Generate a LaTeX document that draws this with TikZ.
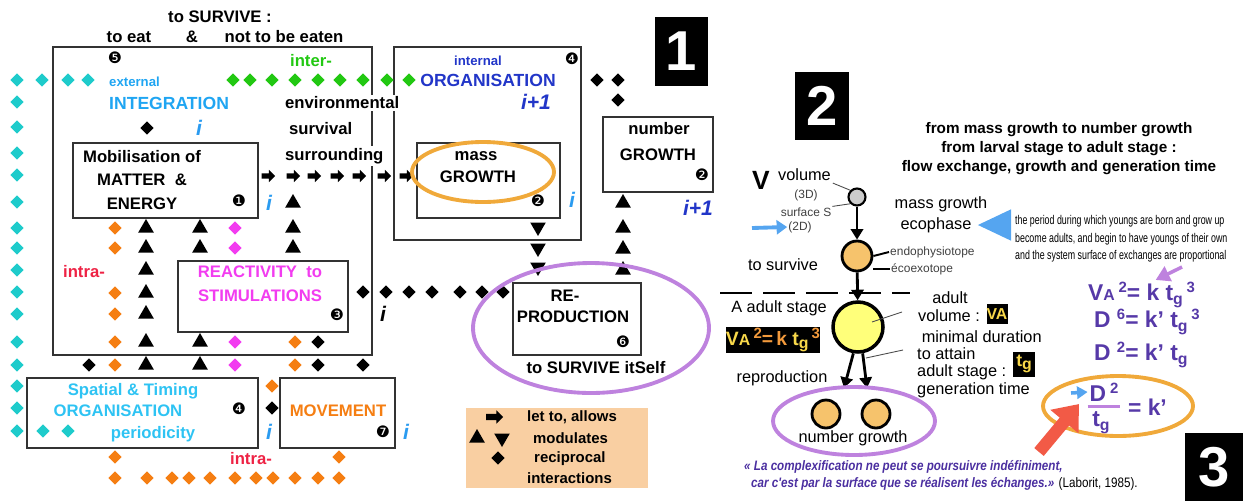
\documentclass[tikz,border=0pt]{standalone}
\usepackage{fontspec}
\setmainfont{Liberation Sans}
\newfontfamily\dingfont{DejaVu Sans}
\newfontfamily\narrowfont[FakeStretch=0.7]{Liberation Sans}
\newfontfamily\quotefont[FakeStretch=0.85]{Liberation Sans}
\usetikzlibrary{positioning,arrows.meta,shapes.geometric,shapes.arrows}
\definecolor{diacyan}{HTML}{1ECBCB}
\definecolor{intblue}{HTML}{1FA5F2}
\definecolor{spablue}{HTML}{2EC3F3}
\definecolor{orgblue}{HTML}{2236C8}
\definecolor{intergreen}{HTML}{22C812}
\definecolor{intraorange}{HTML}{F57E12}
\definecolor{reacmag}{HTML}{F23CF0}
\definecolor{intrared}{HTML}{EE2244}
\definecolor{ringorange}{HTML}{F0A93A}
\definecolor{ringpurple}{HTML}{BE82DE}
\definecolor{legendpeach}{HTML}{F9CFA2}
\definecolor{ibl}{HTML}{2A9BF0}
\definecolor{eqpurple}{HTML}{5639A8}
\definecolor{cellorange}{HTML}{F6C36C}
\definecolor{cellyellow}{HTML}{FFFF7A}
\definecolor{arrowblue}{HTML}{55A5F0}
\definecolor{arrowred}{HTML}{F25A46}
\definecolor{quotepurple}{HTML}{4B2FA0}
\definecolor{fyellow}{HTML}{F8D84A}
\definecolor{forange}{HTML}{F39A3C}
\newcommand{\eqsub}[1]{{\fontsize{9}{9}\selectfont #1}}
\newcommand{\eqlow}[1]{\raisebox{-0.35ex}{\fontsize{9}{9}\selectfont #1}}
\newcommand{\eqsup}[1]{\raisebox{0.65ex}{\fontsize{8.5}{8.5}\selectfont #1}}
\tikzset{
    every node/.style={font=\bfseries\fontsize{9.5}{11.5}\selectfont},
    boxframe/.style={draw=black!80,line width=1pt,inner sep=0pt},
    boxtext/.style={align=center,font=\bfseries\fontsize{9.5}{13.4}\selectfont},
    smalllbl/.style={font=\bfseries\fontsize{7.5}{9}\selectfont},
    dia/.style={diamond,inner sep=0pt,minimum size=0.27cm},
    upmark/.style={regular polygon,regular polygon sides=3,fill=black,inner sep=0pt,minimum size=0.36cm},
    downmark/.style={upmark,shape border rotate=180},
    fwd/.style={single arrow,fill=black,inner sep=0.045cm,single arrow head extend=0.07cm,minimum height=0.27cm},
    numtag/.style={font=\dingfont\fontsize{9}{9}\selectfont,inner sep=0pt},
    itag/.style={font=\bfseries\itshape\fontsize{12}{12}\selectfont,text=ibl,inner sep=0pt},
    legtext/.style={font=\bfseries\fontsize{8.5}{10}\selectfont},
    bigno/.style={fill=black,text=white,font=\bfseries\fontsize{32}{32}\selectfont,inner sep=0pt},
    ring/.style={ellipse,line width=2.2pt,inner sep=0pt},
    cell/.style={circle,draw,line width=1.6pt,inner sep=0pt},
    rtext/.style={font=\fontsize{9.3}{11}\selectfont},
    tinytext/.style={font=\fontsize{6.8}{7}\selectfont,text=black!75,inner sep=0.5pt},
    paratext/.style={font=\narrowfont\fontsize{7.2}{10}\selectfont,align=left},
    quotetext/.style={font=\quotefont\bfseries\itshape\fontsize{7.8}{9}\selectfont,text=quotepurple},
    eqtext/.style={font=\bfseries\fontsize{13}{13}\selectfont,text=eqpurple,inner sep=1pt},
    thickarrow/.style={line width=1.6pt,-{Triangle[length=6pt,width=7pt]}},
    leader/.style={line width=0.5pt,black!70}
}

\begin{document}
\begin{tikzpicture}[x=0.02cm,y=-0.02cm]
    \useasboundingbox (0,0) rectangle (1243,501);
    % frames
    \node[boxframe,minimum width=6.38cm,minimum height=6.16cm] (survive) at (212.5,201) {};
    \node[boxframe,minimum width=3.74cm,minimum height=3.86cm] (organis) at (487.5,143.5) {};
    \node[boxframe,fill=white,minimum width=3.7cm,minimum height=1.5cm] (matter) at (165.5,180.5) {};
    \node[boxframe,fill=white,minimum width=3.4cm,minimum height=1.42cm] (reactiv) at (263,296.5) {};
    \node[boxframe,minimum width=4.62cm,minimum height=1.4cm] (spatial) at (142.5,413) {};
    \node[boxframe,minimum width=2.3cm,minimum height=1.4cm] (movement) at (337.5,413) {};
    \node[boxframe,minimum width=2.86cm,minimum height=1.5cm] (massgr) at (488.5,180.5) {};
    \node[boxframe,minimum width=2.2cm,minimum height=1.5cm] (numgr) at (658,154.5) {};
    \node[boxframe,minimum width=2.56cm,minimum height=1.44cm] (reprod) at (577,319) {};
    \node[fill=legendpeach,inner sep=0pt,minimum width=3.64cm,minimum height=1.6cm] (legend) at (557,448) {};

    % diamonds
    \foreach \y [count=\k] in {80,102,127,153,175,202,228,248,270,292,314,342,365,386,408,431}
        \node[dia,fill=diacyan] (cl\k) at (17,\y) {};
    \foreach \x [count=\k] in {42,68,88}
        \node[dia,fill=diacyan] (ct\k) at (\x,80) {};
    \foreach \x [count=\k] in {43,68}
        \node[dia,fill=diacyan] (cb\k) at (\x,431) {};
    \foreach \x [count=\k] in {233,250,272,295,318,340,363,387,409}
        \node[dia,fill=intergreen] (gr\k) at (\x,80) {};
    \foreach \y [count=\k] in {228,248,293,314,342,365,457,478}
        \node[dia,fill=intraorange] (ol\k) at (115,\y) {};
    \foreach \x [count=\k] in {147,172,189,210,235,256,273,295,318,339}
        \node[dia,fill=intraorange] (ob\k) at (\x,478) {};
    \foreach \x/\y [count=\k] in {295/342,295/365,272/386,339/457}
        \node[dia,fill=intraorange] (oc\k) at (\x,\y) {};
    \foreach \y [count=\k] in {228,248,342,365}
        \node[dia,fill=reacmag] (mg\k) at (235,\y) {};
    \foreach \x/\y [count=\k] in {147/128,89/365,318/342,318/365,363/365,272/408,597/80,618/80,618/100}
        \node[dia,fill=black] (bd\k) at (\x,\y) {};
    \foreach \x [count=\k] in {363,386,409,432,460,482,503}
        \node[dia,fill=black] (br\k) at (\x,292) {};

    % triangles and arrows
    \foreach \y [count=\k] in {228,248,270,293,314,342,365}
        \node[upmark] (ta\k) at (146,\y) {};
    \foreach \y [count=\k] in {228,248,342,365}
        \node[upmark] (tb\k) at (200,\y) {};
    \foreach \y [count=\k] in {203,228,248}
        \node[upmark] (tc\k) at (293,\y) {};
    \foreach \y [count=\k] in {203,228,249,270}
        \node[upmark] (td\k) at (623,\y) {};
    \foreach \y [count=\k] in {227,248,267}
        \node[downmark] (te\k) at (538,\y) {};
    \foreach \x [count=\k] in {267,292,313,336,358,383,405}
        \node[fwd] (fw\k) at (\x,176) {};

    % left panel texts
    \node (survtitle) at (220,17) {to SURVIVE :};
    \node (toeat) at (129,37) {to eat};
    \node (amp) at (192,37) {\&};
    \node (noteaten) at (284,37) {not to be eaten};
    \node[numtag] (n5) at (115,58) {❺};
    \node[text=intergreen] (inter) at (311,61) {inter-};
    \node[smalllbl,anchor=west,text=intblue] (external) at (103,82) {external};
    \node[anchor=west,text=intblue,font=\bfseries\fontsize{10}{12}\selectfont] (integr) at (103,103) {INTEGRATION};
    \node[itag] (i1) at (199,128) {i};
    \node[anchor=west,fill=white,inner sep=1pt] (envir) at (283,103) {environmental};
    \node[anchor=west] (surviv) at (283,129) {survival};
    \node[anchor=west,fill=white,inner sep=1pt] (surround) at (283,156) {surrounding};
    \node[boxtext] (matterlbl) at (142,180) {Mobilisation of\\MATTER \ \&\\ENERGY};
    \node[numtag] (n1) at (239,201) {❶};
    \node[itag] (i2) at (269,203) {i};
    \node[text=intrared] (intra1) at (84,272) {intra-};
    \node[boxtext,text=reacmag] (reaclbl) at (260,284) {REACTIVITY \ to\\STIMULATIONS};
    \node[numtag] (n3) at (337,315) {❸};
    \node[itag,text=black] (i3) at (383,314) {i};
    \node[text=spablue] (spat1) at (133,391) {Spatial \& Timing};
    \node[text=spablue] (spat2) at (118,411) {ORGANISATION};
    \node[text=spablue] (spat3) at (153,434) {periodicity};
    \node[numtag] (n4b) at (239,409) {❹};
    \node[itag] (i4) at (269,432) {i};
    \node[text=intraorange] (movlbl) at (338,411) {MOVEMENT};
    \node[numtag] (n7) at (383,432) {❼};
    \node[itag] (i5) at (406,432) {i};
    \node[text=intrared] (intra2) at (251,459) {intra-};

    % middle texts
    \node[numtag] (n4) at (572,59) {❹};
    \node[smalllbl,text=orgblue] (internal) at (478,61) {internal};
    \node[text=orgblue,font=\bfseries\fontsize{10}{12}\selectfont] (orglbl) at (488,80) {ORGANISATION};
    \node[itag,text=orgblue] (ip1) at (536,102) {i+1};
    \node (masslbl) at (476,156) {mass};
    \node (massgrlbl) at (478,177) {GROWTH};
    \node[numtag] (n2) at (538,201) {❷};
    \node[ring,draw=ringorange,minimum width=2.84cm,minimum height=1.2cm] (massring) at (483,172) {};
    \node[itag] (i6) at (572,200) {i};
    \node (numlbl) at (659,129) {number};
    \node (numgrlbl) at (658,155) {GROWTH};
    \node[numtag] (n2b) at (702,175) {❷};
    \node[itag,text=orgblue] (ip2) at (698,208) {i+1};
    \node (relbl) at (565,296) {RE-};
    \node (prodlbl) at (573,317) {PRODUCTION};
    \node[numtag] (n6) at (623,342) {❻};
    \node (itself) at (596,368) {to SURVIVE itSelf};
    \node[ring,draw=ringpurple,minimum width=4.72cm,minimum height=2.6cm] (reproring) at (591,328) {};

    % legend
    \node[fwd,minimum height=0.34cm,inner sep=0.055cm] (lgarrow) at (493,417) {};
    \node[legtext,anchor=west] (lg1) at (521,417) {let to, allows};
    \node[upmark] (lgup) at (477,438) {};
    \node[downmark] (lgdown) at (502,438) {};
    \node[legtext,anchor=west] (lg2) at (527,438) {modulates};
    \node[dia,fill=black] (lgdia) at (498,458) {};
    \node[legtext,anchor=west] (lg3) at (528,459) {reciprocal};
    \node[legtext,anchor=west] (lg4) at (521,478) {interactions};

    % panel numbers
    \node[bigno,minimum width=1.06cm,minimum height=1.38cm] (no1) at (681.5,51.5) {1};
    \node[bigno,minimum width=1.08cm,minimum height=1.36cm] (no2) at (822,106) {2};
    \node[bigno,minimum width=1.16cm,minimum height=1.36cm] (no3) at (1214,467) {3};

    % right panel
    \node[font=\bfseries\fontsize{8.7}{10.8}\selectfont,align=center] (title2) at (1059,149)
        {from mass growth to number growth\\from larval stage to adult stage :\\flow exchange, growth and generation time};
    \node[font=\bfseries\fontsize{15}{15}\selectfont] (bigV) at (761,180) {V};
    \node[rtext,anchor=west,inner sep=1pt] (volume) at (776,175) {volume};
    \node[tinytext] (d3) at (806,195) {(3D)};
    \node[tinytext] (surfS) at (806,212) {surface S};
    \node[tinytext] (d2) at (800,227) {(2D)};
    \node[cell,line width=1.2pt,fill=gray!40,minimum size=0.34cm] (seed) at (857,197) {};
    \draw[leader] (volume.south east) -- (seed.north west);
    \draw[leader] (surfS.north east) -- (seed.south west);
    \coordinate (bluetail) at (752,228);
    \draw[arrowblue,line width=2.2pt,-{Triangle[length=6pt,width=8pt]}] (bluetail) -- (d2.west);
    \node[cell,fill=cellorange,minimum size=0.6cm] (larva) at (857,256) {};
    \draw[thickarrow] (seed) -- (larva);
    \node[tinytext,anchor=west] (endo) at (889,252) {endophysiotope};
    \node[tinytext,anchor=west] (ecoexo) at (890,269) {écoexotope};
    \coordinate (ecotick) at (873,269);
    \draw[line width=1.1pt] (larva.east) -- (endo.west);
    \draw[line width=1.1pt] (ecotick) -- (ecoexo.west);
    \node[rtext] (tosurv) at (783,265) {to survive};
    \node[cell,line width=2pt,fill=cellyellow,minimum size=1cm] (adult) at (858,327) {};
    \draw[thickarrow] (larva) -- (adult);
    \coordinate (stageL) at (720,293);
    \coordinate (stageR) at (910,293);
    \draw[line width=1.3pt,dash pattern=on 0.64cm off 0.22cm] (stageL) -- (stageR);
    \node[rtext] (astage) at (779,308) {A adult stage};
    \node[fill=black,inner sep=0pt,minimum width=1.86cm,minimum height=0.52cm,font=\bfseries\fontsize{11}{11}\selectfont] (vabox) at (773,340)
        {\textcolor{fyellow}{V\eqsub{A}}\,\textcolor{forange}{\eqsup{2}=\,k}\ \textcolor{fyellow}{t\eqlow{g}}\,\textcolor{forange}{\eqsup{3}}};
    \node[rtext] (adultlbl) at (950,298) {adult};
    \node[rtext] (advol) at (949,316) {volume :};
    \node[fill=black,text=fyellow,inner sep=0pt,minimum width=0.42cm,minimum height=0.4cm,font=\bfseries\fontsize{9}{9}\selectfont] (vasmall) at (997,314) {V\eqsub{A}};
    \node[rtext,anchor=west,align=left,font=\fontsize{9.3}{9.9}\selectfont] (mindur) at (911,364)
        {\ minimal duration\\to attain\\adult stage :\\generation time};
    \node[fill=black,text=fyellow,inner sep=0pt,minimum width=0.44cm,minimum height=0.5cm,font=\bfseries\fontsize{10}{10}\selectfont] (tgbox) at (1024,364) {t\eqlow{g}};
    \coordinate (volfoot) at (872,322);
    \coordinate (voltip) at (902,312);
    \coordinate (durfoot) at (866,358);
    \coordinate (durtip) at (903,350);
    \draw[leader] (volfoot) -- (voltip);
    \draw[leader] (durfoot) -- (durtip);
    \coordinate (reprotipA) at (844,388);
    \coordinate (reprotipB) at (867,388);
    \draw[thickarrow] (adult.-100) -- (reprotipA);
    \draw[thickarrow] (adult.-80) -- (reprotipB);
    \node[rtext] (reprolbl) at (782,378) {reproduction};
    \node[cell,fill=cellorange,minimum size=0.56cm] (offa) at (826,414) {};
    \node[cell,fill=cellorange,minimum size=0.56cm] (offb) at (876,414) {};
    \node[ring,draw=ringpurple,minimum width=3.24cm,minimum height=1.36cm] (numring) at (854,421) {};
    \node[rtext] (numgrowth) at (853,438) {number growth};
    \node[rtext] (massgrowth) at (941,204) {mass growth};
    \node[rtext] (ecophase) at (936,225) {ecophase};
    \node[paratext,anchor=west] (period) at (1009,239)
        {the period during which youngs are born and grow up\\become adults, and begin to have youngs of their own\\and the system surface of exchanges are proportional};
    \draw[arrowblue,line width=3pt,-{Triangle[length=19pt,width=17pt]}] (period.west |- ecophase.east) -- (ecophase.east);
    \node[quotetext,anchor=west] (quote1) at (738,467) {« La complexification ne peut se poursuivre indéfiniment,};
    \node[quotetext,anchor=west] (quote2) at (745,484)
        {car c'est par la surface que se réalisent les échanges.» {\mdseries\upshape\color{black}(Laborit, 1985).}};

    % equations
    \node[eqtext,anchor=west] (eqVA) at (1086,295) {V\eqsub{A}\,\eqsup{2}= k t\eqlow{g}\,\eqsup{3}};
    \node[eqtext,anchor=west] (eqD6) at (1092,322) {D \eqsup{6}= k' t\eqlow{g}\,\eqsup{3}};
    \node[eqtext,anchor=west] (eqD2) at (1092,355) {D \eqsup{2}= k' t\eqlow{g}};
    \coordinate (ptail) at (1182,267);
    \draw[ringpurple,line width=2pt,-{Triangle[length=8pt,width=9pt]}] (ptail) -- ([xshift=8pt]eqVA.north);
    \node[eqtext] (fracD) at (1104,392) {D\,\eqsup{2}};
    \node[eqtext] (fractg) at (1101,423) {t\eqlow{g}};
    \draw[ringpurple,line width=1.6pt] ([yshift=-2pt]fracD.south west) -- ([yshift=-2pt]fracD.south east);
    \node[eqtext,anchor=west] (eqk) at (1126,407) {= k'};
    \node[ring,draw=ringorange,minimum width=3cm,minimum height=1.2cm] (kring) at (1118,406) {};
    \coordinate (kblue) at (1071,393);
    \draw[arrowblue,line width=2pt,-{Triangle[length=6pt,width=7pt]}] (kblue) -- (fracD.west);
    \coordinate (redtail) at (1039,452);
    \coordinate (redtip) at (1079,404);
    \draw[arrowred,line width=7pt,-{Triangle[length=13pt,width=20pt]}] (redtail) -- (redtip);
\end{tikzpicture}
\end{document}
